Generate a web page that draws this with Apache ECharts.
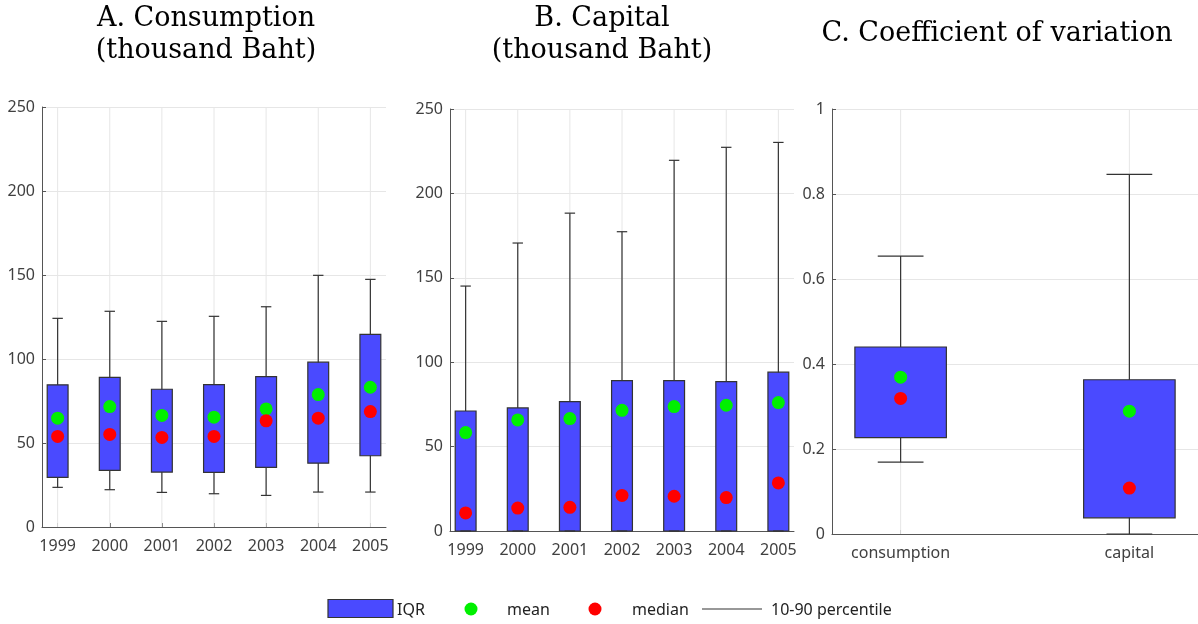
<!DOCTYPE html>
<html>
<head>
<meta charset="utf-8">
<script src="https://cdn.jsdelivr.net/npm/echarts@6/dist/echarts.min.js"></script>
<style>
html,body{margin:0;padding:0;background:#fff;}
#chart{width:1198px;height:624px;}
</style>
</head>
<body>
<div id="chart"></div>
<script>
// ---- Data ----
const years = ['1999', '2000', '2001', '2002', '2003', '2004', '2005'];

const consP10    = [23.6, 22.2, 20.6, 19.8, 18.8, 20.8, 20.8];
const consQ1     = [29.5, 33.7, 32.7, 32.5, 35.5, 38.0, 42.4];
const consQ3     = [84.6, 89.1, 82.0, 84.8, 89.5, 98.1, 114.7];
const consP90    = [124.2, 128.4, 122.4, 125.4, 131.1, 149.8, 147.4];
const consMean   = [64.8, 71.7, 66.4, 65.4, 70.3, 78.8, 83.2];
const consMedian = [53.9, 55.1, 53.3, 53.9, 63.2, 64.8, 68.7];

const capP10    = [0, 0, 0, 0, 0, 0, 0];
const capQ1     = [0, 0, 0, 0, 0, 0, 0];
const capQ3     = [71.1, 72.9, 76.7, 89.1, 89.1, 88.5, 94.1];
const capP90    = [145.1, 170.6, 188.3, 177.3, 219.6, 227.3, 230.2];
const capMean   = [58.3, 65.8, 66.6, 71.5, 73.7, 74.5, 76.1];
const capMedian = [10.7, 13.6, 14.0, 21.1, 20.6, 19.8, 28.5];

const cvCats   = ['consumption', 'capital'];
const cvP10    = [0.169, 0];
const cvQ1     = [0.227, 0.038];
const cvQ3     = [0.440, 0.363];
const cvP90    = [0.654, 0.846];
const cvMean   = [0.369, 0.289];
const cvMedian = [0.319, 0.108];

const titles = [
  ['A. Consumption', '(thousand Baht)'],
  ['B. Capital', '(thousand Baht)'],
  ['C. Coefficient of variation']
];
const legendLabels = ['IQR', 'mean', 'median', '10-90 percentile'];

// ---- Styles ----
const BOX_FILL = '#4a4aff';
const EDGE = '#333333';
const GREEN = '#00f000';
const RED = '#ff0000';
const LABEL_FONT = 'Noto Sans';
const LABEL_COLOR = '#404040';
const SERIF = '"DejaVu Serif"';

const chart = echarts.init(document.getElementById('chart'), null, {renderer: 'canvas'});

function renderBox(params, api) {
  const x = api.value(0);
  const p10 = api.value(1), q1 = api.value(2), q3 = api.value(3), p90 = api.value(4);
  const top = api.coord([x, p90]);
  const bot = api.coord([x, p10]);
  const tl = api.coord([x - 0.2, q3]);
  const br = api.coord([x + 0.2, q1]);
  const cl = api.coord([x - 0.1, p90])[0];
  const cr = api.coord([x + 0.1, p90])[0];
  const lineStyle = {stroke: EDGE, lineWidth: 1.2};
  return {
    type: 'group',
    children: [
      {type: 'line', shape: {x1: top[0], y1: top[1], x2: bot[0], y2: bot[1]}, style: lineStyle},
      {type: 'rect', shape: {x: tl[0], y: tl[1], width: br[0] - tl[0], height: br[1] - tl[1]},
        style: {fill: BOX_FILL, stroke: EDGE, lineWidth: 1.2}},
      {type: 'line', shape: {x1: cl, y1: top[1], x2: cr, y2: top[1]}, style: lineStyle},
      {type: 'line', shape: {x1: cl, y1: bot[1], x2: cr, y2: bot[1]}, style: lineStyle}
    ]
  };
}

function renderVGrid(params, api) {
  const x = api.coord([api.value(0), 0])[0];
  const cs = params.coordSys;
  return {type: 'line', shape: {x1: x, y1: cs.y, x2: x, y2: cs.y + cs.height},
    style: {stroke: '#e6e6e6', lineWidth: 1}};
}

const grids = [
  {left: 42, top: 107, width: 344, height: 420},
  {left: 450, top: 109, width: 344, height: 422},
  {left: 832, top: 109, width: 366, height: 425}
];

const panels = [
  {cats: years, p10: consP10, q1: consQ1, q3: consQ3, p90: consP90, mean: consMean, median: consMedian, max: 250, interval: 50},
  {cats: years, p10: capP10, q1: capQ1, q3: capQ3, p90: capP90, mean: capMean, median: capMedian, max: 250, interval: 50},
  {cats: cvCats, p10: cvP10, q1: cvQ1, q3: cvQ3, p90: cvP90, mean: cvMean, median: cvMedian, max: 1, interval: 0.2}
];

const xAxes = [], yAxes = [], series = [];
panels.forEach((p, k) => {
  const idx = p.cats.map((_, i) => i);
  xAxes.push({
    type: 'value', gridIndex: k, min: -0.3, max: p.cats.length - 1 + 0.3,
    axisLine: {show: true, onZero: false, lineStyle: {color: '#555', width: 1}},
    axisTick: {show: true, inside: true, length: 4, customValues: idx, lineStyle: {color: '#555'}},
    axisLabel: {show: true, customValues: idx, margin: 11, fontFamily: LABEL_FONT, fontSize: 16, color: LABEL_COLOR,
      formatter: v => p.cats[Math.round(v)]},
    splitLine: {show: false}
  });
  yAxes.push({
    type: 'value', gridIndex: k, min: 0, max: p.max, interval: p.interval,
    axisLine: {show: true, onZero: false, lineStyle: {color: '#555', width: 1}},
    axisTick: {show: true, inside: true, length: 4, lineStyle: {color: '#555'}},
    axisLabel: {margin: 7, fontFamily: LABEL_FONT, fontSize: 16, color: LABEL_COLOR},
    splitLine: {show: true, lineStyle: {color: '#e6e6e6', width: 1}}
  });
  series.push({
    type: 'custom', xAxisIndex: k, yAxisIndex: k, z: 1, silent: true,
    renderItem: renderVGrid,
    encode: {x: 0, y: 1},
    data: idx.map(i => [i, 0])
  });
  series.push({
    type: 'custom', xAxisIndex: k, yAxisIndex: k, z: 2,
    renderItem: renderBox,
    encode: {x: 0, y: [1, 2, 3, 4]},
    data: idx.map(i => [i, p.p10[i], p.q1[i], p.q3[i], p.p90[i]])
  });
  series.push({
    type: 'scatter', xAxisIndex: k, yAxisIndex: k, z: 3, symbolSize: 13,
    itemStyle: {color: GREEN, opacity: 1},
    data: idx.map(i => [i, p.mean[i]])
  });
  series.push({
    type: 'scatter', xAxisIndex: k, yAxisIndex: k, z: 4, symbolSize: 13,
    itemStyle: {color: RED, opacity: 1},
    data: idx.map(i => [i, p.median[i]])
  });
});

const titleFont = '27px ' + SERIF;
const legFont = '16px "Noto Sans"';
const LY = 609;
const graphics = [
  {type: 'text', x: 206, y: 18.5, style: {text: titles[0][0], font: titleFont, fill: '#000', align: 'center', verticalAlign: 'middle'}},
  {type: 'text', x: 206, y: 50.5, style: {text: titles[0][1], font: titleFont, fill: '#000', align: 'center', verticalAlign: 'middle'}},
  {type: 'text', x: 602, y: 18.5, style: {text: titles[1][0], font: titleFont, fill: '#000', align: 'center', verticalAlign: 'middle'}},
  {type: 'text', x: 602, y: 50.5, style: {text: titles[1][1], font: titleFont, fill: '#000', align: 'center', verticalAlign: 'middle'}},
  {type: 'text', x: 997, y: 33.5, style: {text: titles[2][0], font: titleFont, fill: '#000', align: 'center', verticalAlign: 'middle'}},
  // legend
  {type: 'rect', shape: {x: 328, y: 599.5, width: 65, height: 18}, style: {fill: BOX_FILL, stroke: EDGE, lineWidth: 1.2}},
  {type: 'text', x: 397, y: LY + 1, style: {text: legendLabels[0], font: legFont, fill: '#222', verticalAlign: 'middle'}},
  {type: 'circle', shape: {cx: 471, cy: LY, r: 6.5}, style: {fill: GREEN}},
  {type: 'text', x: 507, y: LY + 1, style: {text: legendLabels[1], font: legFont, fill: '#222', verticalAlign: 'middle'}},
  {type: 'circle', shape: {cx: 595, cy: LY, r: 6.5}, style: {fill: RED}},
  {type: 'text', x: 632, y: LY + 1, style: {text: legendLabels[2], font: legFont, fill: '#222', verticalAlign: 'middle'}},
  {type: 'line', shape: {x1: 702, y1: LY, x2: 762, y2: LY}, style: {stroke: EDGE, lineWidth: 1.2}},
  {type: 'text', x: 771, y: LY + 1, style: {text: legendLabels[3], font: legFont, fill: '#222', verticalAlign: 'middle'}}
];

chart.setOption({
  animation: false,
  backgroundColor: '#fff',
  grid: grids,
  xAxis: xAxes,
  yAxis: yAxes,
  series: series,
  graphic: graphics
});
</script>
</body>
</html>
